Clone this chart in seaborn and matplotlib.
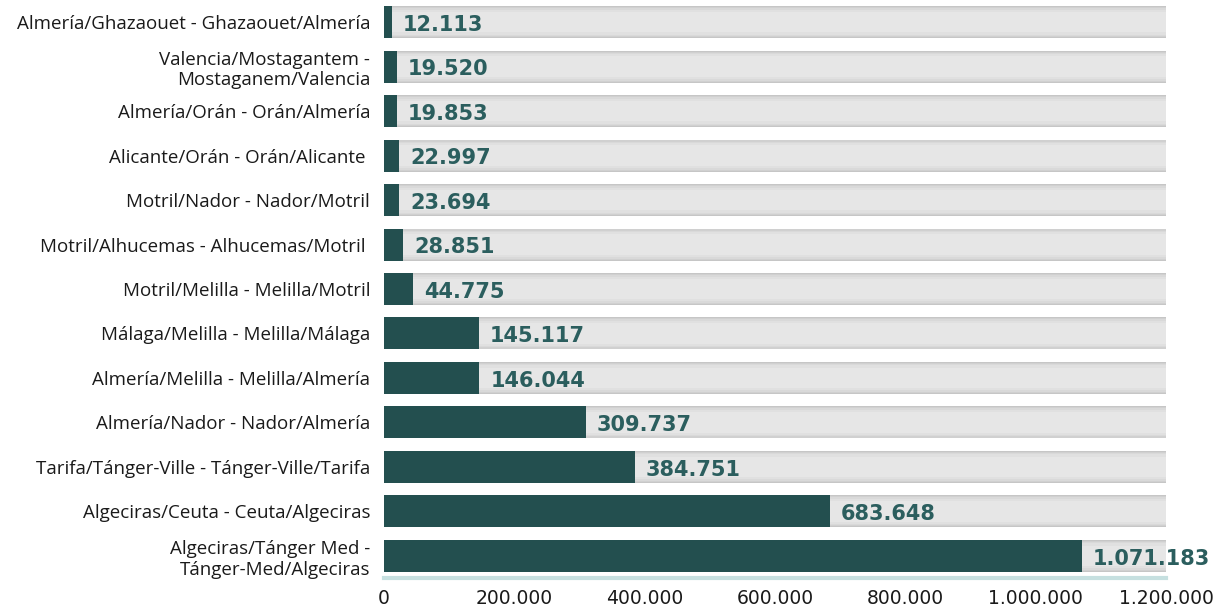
import numpy as np
import pandas as pd
import matplotlib
matplotlib.use("Agg")
import matplotlib.pyplot as plt
import seaborn as sns
from matplotlib.ticker import FuncFormatter

# data, top to bottom
routes = [
    "Almería/Ghazaouet - Ghazaouet/Almería",
    "Valencia/Mostagantem -\nMostaganem/Valencia",
    "Almería/Orán - Orán/Almería",
    "Alicante/Orán - Orán/Alicante ",
    "Motril/Nador - Nador/Motril",
    "Motril/Alhucemas - Alhucemas/Motril ",
    "Motril/Melilla - Melilla/Motril",
    "Málaga/Melilla - Melilla/Málaga",
    "Almería/Melilla - Melilla/Almería",
    "Almería/Nador - Nador/Almería",
    "Tarifa/Tánger-Ville - Tánger-Ville/Tarifa",
    "Algeciras/Ceuta - Ceuta/Algeciras",
    "Algeciras/Tánger Med -\nTánger-Med/Algeciras",
]
passengers = [12113, 19520, 19853, 22997, 23694, 28851, 44775,
              145117, 146044, 309737, 384751, 683648, 1071183]
axis_max = 1200000
xticks = [0, 200000, 400000, 600000, 800000, 1000000, 1200000]

DARK = "#234f4f"
TEXT = "#2b5e5e"
BASE = "#c6e0e0"

def dotted(v, pos=None):
    return f"{int(v):,}".replace(",", ".")

df = pd.DataFrame({"route": routes, "value": passengers,
                   "full": [axis_max] * len(routes)})

sns.set_style("white")
plt.rcParams["font.family"] = ["Open Sans", "DejaVu Sans"]

fig = plt.figure(figsize=(12.27, 6.11), dpi=100)
ax = fig.add_axes([384 / 1227, 33 / 611, 782 / 1227, 578 / 611])

# grey track behind each bar, layered to fake the soft shading
for w, c in [(0.72, "#c6c6c6"), (0.68, "#d0d0d0"), (0.63, "#d9d9d9"),
             (0.56, "#e0e0e0"), (0.46, "#e6e6e6")]:
    sns.barplot(data=df, x="full", y="route", color=c, width=w,
                saturation=1, linewidth=0, edgecolor="none", ax=ax)
sns.barplot(data=df, x="value", y="route", color=DARK, width=0.72,
            saturation=1, linewidth=0, edgecolor="none", ax=ax)

for i, v in enumerate(passengers):
    ax.annotate(dotted(v), xy=(v, i), xytext=(8, -2), textcoords="offset points",
                ha="left", va="center", fontsize=15, fontweight="bold",
                color=TEXT, family=["DejaVu Sans"])

ax.set_xlim(0, axis_max)
ax.set_ylim(len(routes) - 0.5, -0.5)
ax.set_xticks(xticks)
ax.xaxis.set_major_formatter(FuncFormatter(dotted))
ax.tick_params(axis="x", labelsize=13.5, pad=8, length=0, labelcolor="#1a1a1a")
for lbl in ax.get_xticklabels():
    lbl.set_family(["DejaVu Sans"])
ax.tick_params(axis="y", labelsize=13.5, pad=10, length=0, labelcolor="#1a1a1a")
ax.set_xlabel("")
ax.set_ylabel("")
for s in ["top", "right", "left"]:
    ax.spines[s].set_visible(False)
ax.spines["bottom"].set_color(BASE)
ax.spines["bottom"].set_linewidth(3)

fig.savefig("out.png", dpi=100)
